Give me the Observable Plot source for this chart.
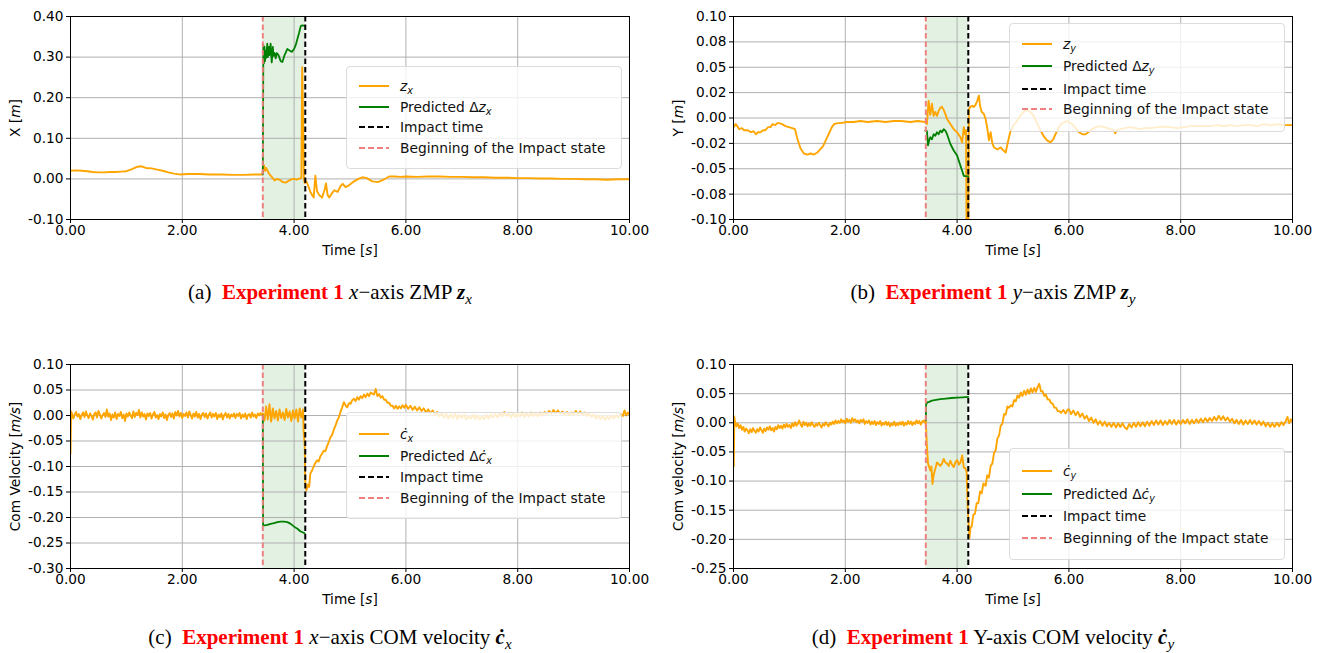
<!DOCTYPE html>
<html><head><meta charset="utf-8">
<script src="https://cdn.jsdelivr.net/npm/d3@7"></script>
<script src="https://cdn.jsdelivr.net/npm/@observablehq/plot@0.6"></script>
<style>
body{margin:0;background:#fff;}
#fig{position:relative;width:1339px;height:653px;overflow:hidden;font-family:"DejaVu Sans",sans-serif;background:#fff;}
.panel{position:absolute;}
.legend{position:absolute;background:rgba(255,255,255,0.8);border:1px solid #dcdcdc;border-radius:4px;box-sizing:border-box;}
.row{position:absolute;left:12px;height:20px;display:flex;align-items:center;font-size:13.8px;color:#111;white-space:nowrap;}
.row svg{margin-right:11px;flex:none;}
.row sub{font-size:70%;vertical-align:-0.35em;line-height:0;}
.cap{position:absolute;width:660px;text-align:center;font-family:"Liberation Serif","Times New Roman",serif;font-size:21px;color:#000;white-space:pre;}
.cap .exp{color:#ff0000;font-weight:bold;}
.cap sub{font-size:72%;vertical-align:-0.3em;line-height:0;}
</style>
</head><body>
<div id="fig"></div>
<script>
// ---------- shared axis data ----------
const xTicks = [0, 2, 4, 6, 8, 10];
const xTickLabels = ["0.00", "2.00", "4.00", "6.00", "8.00", "10.00"];
const beginImpact = 3.44;
const impactTime = 4.2;

// ---------- (a) x-axis ZMP ----------
const aYTicks = [-0.1, 0, 0.1, 0.2, 0.3, 0.4];
const aYLabels = ["-0.10", "0.00", "0.10", "0.20", "0.30", "0.40"];
const zxMeasured = [[0,0.020],[0.1,0.021],[0.2,0.020],[0.3,0.019],[0.4,0.017],[0.5,0.016],[0.6,0.016],[0.7,0.017],[0.8,0.017],[0.9,0.018],[1.0,0.019],[1.1,0.024],[1.2,0.030],[1.27,0.031],[1.35,0.027],[1.45,0.026],[1.55,0.023],[1.65,0.020],[1.75,0.016],[1.85,0.013],[1.95,0.011],[2.1,0.012],[2.3,0.012],[2.5,0.011],[2.7,0.011],[2.9,0.010],[3.1,0.010],[3.3,0.011],[3.43,0.011],[3.46,0.034],[3.48,0.020],[3.5,0.027],[3.55,0.013],[3.6,0.005],[3.65,-0.004],[3.7,0.0],[3.75,-0.003],[3.8,-0.008],[3.85,-0.009],[3.9,-0.005],[3.95,-0.001],[4.0,0.0],[4.05,-0.002],[4.1,0.001],[4.13,0.003],[4.145,0.275],[4.16,0.15],[4.175,0.0],[4.19,-0.01],[4.22,-0.006],[4.26,-0.02],[4.3,-0.035],[4.35,-0.046],[4.38,0.008],[4.41,-0.03],[4.45,-0.04],[4.5,-0.046],[4.55,-0.025],[4.57,-0.011],[4.6,-0.04],[4.63,-0.046],[4.68,-0.035],[4.72,-0.028],[4.78,-0.032],[4.83,-0.018],[4.87,-0.012],[4.92,-0.02],[4.97,-0.017],[5.05,-0.008],[5.15,0.0],[5.22,0.004],[5.3,0.002],[5.4,-0.006],[5.5,-0.008],[5.6,-0.002],[5.7,0.006],[5.8,0.006],[5.9,0.005],[6.0,0.006],[6.2,0.005],[6.4,0.006],[6.6,0.006],[6.8,0.005],[7.0,0.005],[7.2,0.004],[7.4,0.004],[7.6,0.003],[7.8,0.003],[8.0,0.002],[8.2,0.002],[8.4,0.001],[8.6,0.001],[8.8,0.000],[9.0,0.000],[9.2,-0.001],[9.4,-0.001],[9.6,-0.002],[9.8,-0.001],[10.0,-0.001]];
const zxPredicted = [[3.44,0.011],[3.45,0.33],[3.46,0.285],[3.47,0.325],[3.48,0.29],[3.49,0.315],[3.5,0.298],[3.52,0.333],[3.53,0.3],[3.55,0.325],[3.56,0.305],[3.58,0.333],[3.6,0.287],[3.62,0.325],[3.63,0.303],[3.65,0.31],[3.67,0.297],[3.69,0.31],[3.72,0.305],[3.76,0.29],[3.79,0.288],[3.83,0.305],[3.88,0.32],[3.92,0.316],[3.96,0.313],[4.0,0.32],[4.03,0.33],[4.06,0.345],[4.09,0.36],[4.12,0.377],[4.15,0.378],[4.19,0.377]];

// ---------- (b) y-axis ZMP ----------
const bYTicks = [-0.1, -0.075, -0.05, -0.025, 0, 0.025, 0.05, 0.075, 0.1];
const bYLabels = ["-0.10", "-0.08", "-0.05", "-0.02", "0.00", "0.02", "0.05", "0.08", "0.10"];
const zyMeasured = [[0,-0.009],[0.04,-0.006],[0.08,-0.009],[0.1,-0.011],[0.15,-0.010],[0.19,-0.012],[0.25,-0.012],[0.31,-0.014],[0.36,-0.013],[0.4,-0.016],[0.44,-0.014],[0.48,-0.014],[0.53,-0.012],[0.57,-0.012],[0.62,-0.009],[0.66,-0.009],[0.7,-0.006],[0.75,-0.007],[0.78,-0.005],[0.81,-0.005],[0.87,-0.006],[0.93,-0.008],[0.99,-0.009],[1.05,-0.010],[1.1,-0.011],[1.14,-0.02],[1.2,-0.030],[1.26,-0.035],[1.32,-0.036],[1.38,-0.035],[1.44,-0.036],[1.5,-0.034],[1.55,-0.031],[1.6,-0.028],[1.65,-0.022],[1.71,-0.015],[1.76,-0.009],[1.8,-0.006],[1.86,-0.005],[1.92,-0.005],[2.03,-0.004],[2.15,-0.004],[2.27,-0.003],[2.4,-0.004],[2.57,-0.003],[2.72,-0.004],[2.87,-0.003],[3.0,-0.003],[3.16,-0.004],[3.3,-0.003],[3.43,-0.004],[3.46,-0.006],[3.49,0.017],[3.52,0.003],[3.55,0.014],[3.58,0.002],[3.61,0.006],[3.64,0.002],[3.67,0.007],[3.70,0.010],[3.73,0.011],[3.76,0.008],[3.79,0.004],[3.82,-0.001],[3.88,-0.006],[3.94,-0.011],[4.0,-0.014],[4.06,-0.019],[4.09,-0.024],[4.12,-0.009],[4.14,-0.016],[4.16,-0.012],[4.17,-0.12],[4.2,-0.12],[4.21,0.009],[4.24,0.011],[4.27,0.012],[4.3,0.011],[4.33,0.013],[4.36,0.017],[4.39,0.022],[4.41,0.012],[4.44,0.006],[4.48,0.004],[4.51,-0.001],[4.54,-0.01],[4.57,-0.022],[4.6,-0.014],[4.63,-0.025],[4.66,-0.029],[4.72,-0.031],[4.78,-0.029],[4.81,-0.031],[4.87,-0.034],[4.90,-0.026],[4.95,-0.014],[5.01,-0.007],[5.07,-0.003],[5.13,0.002],[5.19,0.006],[5.25,0.008],[5.31,0.006],[5.37,0.002],[5.43,-0.005],[5.49,-0.012],[5.55,-0.018],[5.61,-0.022],[5.67,-0.024],[5.72,-0.021],[5.76,-0.016],[5.82,-0.009],[5.88,-0.005],[5.97,-0.003],[6.06,-0.006],[6.12,-0.01],[6.18,-0.014],[6.24,-0.016],[6.30,-0.016],[6.39,-0.012],[6.45,-0.010],[6.51,-0.0085],[6.57,-0.008],[6.63,-0.009],[6.69,-0.010],[6.74,-0.011],[6.80,-0.012],[6.83,-0.015],[6.86,-0.012],[6.92,-0.011],[7.0,-0.010],[7.10,-0.009],[7.19,-0.010],[7.28,-0.011],[7.37,-0.010],[7.46,-0.010],[7.58,-0.009],[7.70,-0.0085],[7.82,-0.009],[7.94,-0.010],[8.05,-0.009],[8.17,-0.008],[8.29,-0.008],[8.41,-0.008],[8.53,-0.008],[8.65,-0.007],[8.77,-0.008],[8.89,-0.007],[9.01,-0.008],[9.13,-0.007],[9.25,-0.007],[9.37,-0.008],[9.49,-0.006],[9.61,-0.007],[9.73,-0.006],[9.85,-0.007],[10.0,-0.007]];
const zyPredicted = [[3.43,-0.0125],[3.46,-0.013],[3.48,-0.027],[3.5,-0.022],[3.52,-0.019],[3.55,-0.021],[3.58,-0.016],[3.61,-0.0175],[3.64,-0.014],[3.67,-0.016],[3.7,-0.0125],[3.73,-0.014],[3.76,-0.011],[3.79,-0.0125],[3.82,-0.016],[3.88,-0.0256],[3.94,-0.032],[4.0,-0.037],[4.06,-0.047],[4.09,-0.052],[4.12,-0.057],[4.18,-0.0575],[4.2,-0.0575]];

// ---------- (c) x-axis COM velocity ----------
const cYTicks = [-0.3, -0.25, -0.2, -0.15, -0.1, -0.05, 0, 0.05, 0.1];
const cYLabels = ["-0.30", "-0.25", "-0.20", "-0.15", "-0.10", "-0.05", "0.00", "0.05", "0.10"];
const cxMeasured = [[0,-0.075],[0.01,0.008],[0.025,0.004],[0.05,-0.006],[0.075,0.002],[0.1,0.007],[0.125,-0.002],[0.15,0.003],[0.175,-0.007],[0.2,0.001],[0.225,0.006],[0.25,-0.003],[0.275,0.008],[0.3,0.0],[0.325,-0.005],[0.35,0.004],[0.375,-0.001],[0.4,-0.008],[0.425,0.003],[0.45,0.006],[0.475,-0.004],[0.5,0.009],[0.525,0.002],[0.55,-0.006],[0.575,0.001],[0.6,0.005],[0.625,-0.003],[0.65,0.012],[0.675,-0.002],[0.7,0.004],[0.725,-0.009],[0.75,0.002],[0.775,-0.004],[0.8,0.006],[0.825,-0.007],[0.85,0.003],[0.875,-0.001],[0.9,0.007],[0.925,-0.005],[0.95,0.002],[0.975,-0.011],[1.0,0.004],[1.025,-0.002],[1.05,0.006],[1.075,0.0],[1.1,-0.005],[1.125,0.008],[1.15,-0.003],[1.175,0.005],[1.2,0.001],[1.225,0.011],[1.25,-0.004],[1.275,0.006],[1.3,-0.002],[1.325,0.003],[1.35,-0.008],[1.375,0.004],[1.4,-0.001],[1.425,0.005],[1.45,-0.006],[1.475,0.002],[1.5,0.007],[1.525,-0.004],[1.55,0.001],[1.575,-0.007],[1.6,0.003],[1.625,-0.002],[1.65,0.006],[1.675,-0.005],[1.7,0.002],[1.725,-0.009],[1.75,0.001],[1.775,0.005],[1.8,-0.003],[1.825,0.004],[1.85,-0.006],[1.875,0.007],[1.9,0.0],[1.925,0.009],[1.95,-0.002],[1.975,0.005],[2.0,-0.005],[2.025,0.003],[2.05,-0.001],[2.075,0.006],[2.1,-0.004],[2.125,0.008],[2.15,0.001],[2.175,-0.006],[2.2,0.004],[2.225,-0.002],[2.25,0.007],[2.275,-0.004],[2.3,0.003],[2.325,-0.007],[2.35,0.002],[2.375,0.005],[2.4,-0.003],[2.425,0.004],[2.45,-0.006],[2.475,0.001],[2.5,0.006],[2.525,-0.004],[2.55,0.003],[2.575,-0.002],[2.6,0.005],[2.625,-0.007],[2.65,0.002],[2.675,-0.003],[2.7,0.004],[2.725,-0.008],[2.75,0.001],[2.775,0.005],[2.8,-0.004],[2.825,0.003],[2.85,-0.006],[2.875,0.002],[2.9,-0.002],[2.925,0.004],[2.95,-0.005],[2.975,0.003],[3.0,-0.001],[3.025,0.005],[3.05,-0.006],[3.075,0.002],[3.1,-0.003],[3.125,0.004],[3.15,-0.007],[3.175,0.001],[3.2,0.003],[3.225,-0.004],[3.25,0.006],[3.275,-0.002],[3.3,0.002],[3.325,-0.005],[3.35,0.004],[3.375,0.0],[3.4,0.005],[3.425,0.001],[3.44,0.004],[3.47,-0.01],[3.5,0.018],[3.53,-0.008],[3.56,0.022],[3.59,-0.012],[3.62,0.014],[3.65,-0.006],[3.68,0.009],[3.71,-0.01],[3.74,0.012],[3.77,-0.005],[3.8,0.006],[3.83,-0.009],[3.86,0.013],[3.89,-0.004],[3.92,0.008],[3.95,-0.011],[3.98,0.01],[4.01,-0.006],[4.04,0.012],[4.07,-0.012],[4.1,0.014],[4.13,-0.004],[4.16,0.012],[4.17,-0.03],[4.19,-0.06],[4.2,-0.13],[4.22,-0.147],[4.25,-0.135],[4.27,-0.14],[4.29,-0.114],[4.32,-0.108],[4.35,-0.1],[4.38,-0.093],[4.41,-0.088],[4.44,-0.09],[4.47,-0.08],[4.5,-0.075],[4.53,-0.069],[4.56,-0.07],[4.59,-0.06],[4.62,-0.052],[4.65,-0.043],[4.68,-0.038],[4.71,-0.028],[4.74,-0.02],[4.77,-0.01],[4.8,-0.004],[4.83,0.007],[4.86,0.016],[4.89,0.026],[4.92,0.02],[4.95,0.016],[4.98,0.024],[5.01,0.023],[5.04,0.03],[5.07,0.033],[5.1,0.028],[5.13,0.036],[5.16,0.031],[5.19,0.038],[5.22,0.034],[5.25,0.041],[5.28,0.036],[5.31,0.043],[5.34,0.038],[5.37,0.045],[5.4,0.043],[5.43,0.041],[5.46,0.052],[5.49,0.038],[5.52,0.042],[5.55,0.035],[5.58,0.038],[5.61,0.031],[5.64,0.031],[5.67,0.025],[5.7,0.025],[5.73,0.019],[5.76,0.019],[5.79,0.014],[5.82,0.019],[5.85,0.013],[5.88,0.018],[5.91,0.014],[5.94,0.02],[5.97,0.015],[6.0,0.021],[6.04,0.013],[6.08,0.019],[6.12,0.011],[6.16,0.017],[6.20,0.010],[6.24,0.016],[6.28,0.009],[6.32,0.014],[6.36,0.006],[6.40,0.012],[6.44,0.004],[6.48,0.010],[6.52,0.001],[6.56,0.007],[6.60,-0.002],[6.64,0.004],[6.68,-0.004],[6.72,0.003],[6.76,-0.006],[6.80,0.002],[6.84,-0.005],[6.88,0.003],[6.92,-0.007],[6.96,0.001],[7.00,-0.005],[7.04,0.002],[7.08,-0.008],[7.12,-0.001],[7.16,-0.006],[7.20,0.001],[7.24,-0.007],[7.28,0.0],[7.32,-0.008],[7.36,-0.002],[7.40,-0.007],[7.44,0.001],[7.48,-0.006],[7.52,0.002],[7.56,-0.004],[7.60,0.003],[7.64,-0.004],[7.68,0.005],[7.72,-0.002],[7.76,0.007],[7.80,-0.001],[7.84,0.004],[7.88,-0.004],[7.92,0.005],[7.96,-0.003],[8.00,0.004],[8.04,-0.002],[8.08,0.006],[8.12,-0.003],[8.16,0.005],[8.20,-0.002],[8.24,0.006],[8.28,-0.001],[8.32,0.005],[8.36,-0.002],[8.40,0.006],[8.44,0.0],[8.48,0.007],[8.52,0.002],[8.56,0.009],[8.60,0.003],[8.64,0.011],[8.68,0.004],[8.72,0.010],[8.76,0.003],[8.80,0.008],[8.84,0.001],[8.88,0.007],[8.92,0.0],[8.96,0.006],[9.00,0.001],[9.04,0.009],[9.08,0.002],[9.12,0.008],[9.16,0.001],[9.20,0.006],[9.24,-0.001],[9.28,0.004],[9.32,-0.003],[9.36,0.002],[9.40,-0.006],[9.44,0.0],[9.48,-0.007],[9.52,-0.001],[9.56,-0.008],[9.60,-0.002],[9.64,-0.007],[9.68,0.0],[9.72,-0.006],[9.76,0.001],[9.80,-0.004],[9.84,0.003],[9.88,-0.001],[9.91,0.010],[9.94,0.0],[9.97,0.006],[10.0,0.002]];
const cxPredicted = [[3.44,0.0],[3.445,-0.216],[3.52,-0.2145],[3.58,-0.2125],[3.64,-0.211],[3.7,-0.209],[3.76,-0.208],[3.82,-0.208],[3.88,-0.209],[3.94,-0.2125],[4.0,-0.218],[4.06,-0.222],[4.11,-0.227],[4.17,-0.230],[4.19,-0.231]];

// ---------- (d) y-axis COM velocity ----------
const dYTicks = [-0.25, -0.2, -0.15, -0.1, -0.05, 0, 0.05, 0.1];
const dYLabels = ["-0.25", "-0.20", "-0.15", "-0.10", "-0.05", "0.00", "0.05", "0.10"];
const cyMeasured = [[0,0.012],[0.005,-0.074],[0.015,0.01],[0.025,0.002],[0.05,-0.006],[0.075,-0.001],[0.1,-0.009],[0.125,-0.004],[0.15,-0.012],[0.175,-0.007],[0.2,-0.015],[0.225,-0.01],[0.25,-0.013],[0.275,-0.018],[0.3,-0.011],[0.325,-0.016],[0.35,-0.009],[0.375,-0.014],[0.4,-0.017],[0.425,-0.011],[0.45,-0.015],[0.475,-0.008],[0.5,-0.013],[0.525,-0.017],[0.55,-0.01],[0.575,-0.014],[0.6,-0.008],[0.625,-0.012],[0.65,-0.006],[0.675,-0.013],[0.7,-0.009],[0.725,-0.015],[0.75,-0.007],[0.775,-0.011],[0.8,-0.004],[0.825,-0.009],[0.85,-0.005],[0.875,-0.01],[0.9,-0.003],[0.925,-0.008],[0.95,-0.002],[0.975,-0.007],[1.0,-0.004],[1.025,-0.009],[1.05,-0.001],[1.075,-0.006],[1.1,0.001],[1.125,-0.005],[1.15,-0.002],[1.175,0.004],[1.2,-0.003],[1.225,-0.007],[1.25,0.002],[1.275,-0.004],[1.3,0.0],[1.325,-0.006],[1.35,-0.001],[1.375,-0.005],[1.4,0.001],[1.425,-0.004],[1.45,-0.007],[1.475,-0.002],[1.5,-0.005],[1.525,0.0],[1.55,-0.004],[1.575,-0.008],[1.6,-0.002],[1.625,-0.005],[1.65,0.001],[1.675,-0.003],[1.7,-0.006],[1.725,0.0],[1.75,-0.003],[1.775,0.002],[1.8,-0.002],[1.825,0.004],[1.85,-0.001],[1.875,0.003],[1.9,0.0],[1.925,0.006],[1.95,0.001],[1.975,0.004],[2.0,-0.001],[2.025,0.007],[2.05,0.002],[2.075,0.005],[2.1,0.0],[2.125,0.008],[2.15,0.003],[2.175,0.006],[2.2,0.001],[2.225,0.004],[2.25,-0.001],[2.275,0.005],[2.3,0.002],[2.325,0.006],[2.35,-0.002],[2.375,0.003],[2.4,0.0],[2.425,0.004],[2.45,-0.003],[2.475,0.002],[2.5,-0.002],[2.525,0.003],[2.55,-0.004],[2.575,0.001],[2.6,-0.002],[2.625,0.003],[2.65,-0.005],[2.675,0.0],[2.7,-0.003],[2.725,0.002],[2.75,-0.004],[2.775,0.001],[2.8,-0.006],[2.825,-0.001],[2.85,-0.004],[2.875,0.002],[2.9,-0.005],[2.925,-0.001],[2.95,-0.004],[2.975,0.001],[3.0,-0.003],[3.025,0.002],[3.05,-0.005],[3.075,0.0],[3.1,-0.003],[3.125,0.003],[3.15,-0.002],[3.175,0.002],[3.2,-0.004],[3.225,0.001],[3.25,-0.002],[3.275,0.004],[3.3,-0.001],[3.325,0.003],[3.35,-0.003],[3.375,0.002],[3.4,0.004],[3.425,0.0],[3.44,0.003],[3.46,-0.04],[3.48,-0.07],[3.5,-0.076],[3.52,-0.082],[3.54,-0.075],[3.56,-0.105],[3.58,-0.09],[3.61,-0.079],[3.64,-0.068],[3.67,-0.071],[3.7,-0.074],[3.73,-0.07],[3.76,-0.062],[3.79,-0.068],[3.82,-0.07],[3.85,-0.074],[3.88,-0.065],[3.91,-0.072],[3.94,-0.076],[3.97,-0.068],[4.0,-0.064],[4.03,-0.072],[4.06,-0.068],[4.09,-0.056],[4.12,-0.077],[4.15,-0.078],[4.17,-0.085],[4.19,-0.145],[4.22,-0.198],[4.24,-0.18],[4.26,-0.178],[4.29,-0.158],[4.32,-0.156],[4.35,-0.138],[4.38,-0.138],[4.41,-0.118],[4.44,-0.121],[4.47,-0.104],[4.51,-0.108],[4.54,-0.09],[4.57,-0.094],[4.6,-0.074],[4.63,-0.07],[4.66,-0.052],[4.69,-0.047],[4.72,-0.027],[4.75,-0.022],[4.78,-0.005],[4.81,-0.002],[4.84,0.015],[4.87,0.014],[4.9,0.028],[4.93,0.026],[4.96,0.03],[4.99,0.028],[5.02,0.039],[5.05,0.037],[5.08,0.047],[5.11,0.043],[5.14,0.052],[5.17,0.046],[5.2,0.055],[5.23,0.048],[5.26,0.057],[5.29,0.05],[5.32,0.059],[5.35,0.052],[5.38,0.06],[5.41,0.053],[5.44,0.061],[5.47,0.067],[5.5,0.054],[5.53,0.054],[5.56,0.046],[5.59,0.048],[5.62,0.04],[5.65,0.04],[5.68,0.034],[5.71,0.033],[5.74,0.026],[5.77,0.026],[5.8,0.02],[5.83,0.02],[5.86,0.017],[5.9,0.022],[5.94,0.016],[5.98,0.023],[6.00,0.023],[6.04,0.015],[6.08,0.021],[6.12,0.013],[6.16,0.019],[6.20,0.010],[6.24,0.016],[6.28,0.007],[6.32,0.012],[6.36,0.003],[6.40,0.009],[6.44,0.0],[6.48,0.006],[6.52,-0.003],[6.56,0.003],[6.60,-0.005],[6.64,0.002],[6.68,-0.006],[6.72,0.0],[6.76,-0.007],[6.80,0.0],[6.84,-0.008],[6.88,-0.001],[6.92,-0.007],[6.96,-0.001],[7.00,-0.008],[7.04,-0.011],[7.08,-0.002],[7.12,-0.008],[7.16,0.0],[7.20,-0.007],[7.24,0.001],[7.28,-0.006],[7.32,0.001],[7.36,-0.006],[7.40,0.002],[7.44,-0.005],[7.48,0.003],[7.52,-0.004],[7.56,0.004],[7.60,-0.003],[7.64,0.004],[7.68,-0.004],[7.72,0.003],[7.76,-0.003],[7.80,0.005],[7.84,-0.002],[7.88,0.005],[7.92,-0.003],[7.96,0.004],[8.00,-0.002],[8.04,0.005],[8.08,-0.001],[8.12,0.006],[8.16,-0.002],[8.20,0.005],[8.24,-0.001],[8.28,0.006],[8.32,0.0],[8.36,0.007],[8.40,0.001],[8.44,0.008],[8.48,0.002],[8.52,0.008],[8.56,0.003],[8.60,0.010],[8.64,0.004],[8.68,0.012],[8.72,0.005],[8.76,0.011],[8.80,0.004],[8.84,0.009],[8.88,0.002],[8.92,0.007],[8.96,-0.001],[9.00,0.005],[9.04,-0.002],[9.08,0.005],[9.12,-0.003],[9.16,0.004],[9.20,-0.002],[9.24,0.005],[9.28,-0.002],[9.32,0.004],[9.36,-0.003],[9.40,0.003],[9.44,-0.004],[9.48,0.002],[9.52,-0.006],[9.56,0.0],[9.60,-0.007],[9.64,-0.001],[9.68,-0.007],[9.72,0.0],[9.76,-0.006],[9.80,0.001],[9.84,-0.004],[9.88,0.003],[9.91,0.010],[9.94,-0.001],[9.97,0.006],[10.0,0.002]];
const cyPredicted = [[3.44,0.004],[3.445,0.032],[3.47,0.035],[3.5,0.036],[3.55,0.038],[3.6,0.039],[3.7,0.0405],[3.8,0.0415],[3.9,0.0425],[4.0,0.043],[4.1,0.0437],[4.2,0.0443]];

// ---------- text ----------
const legendNames = ["measured", "Predicted Δ", "Impact time", "Beginning of the Impact state"];

const panels = [
  {left: 0, top: 0, height: 259, yDomain: [-0.1, 0.4], yTicks: aYTicks, yLabels: aYLabels,
   measured: zxMeasured, predicted: zxPredicted,
   yLabel: [["X [", false], ["m", true], ["]", false]],
   sym: '<i>z</i><sub><i>x</i></sub>',
   legend: {left: 346, top: 66, width: 276, height: 103, rows: [20, 41, 61, 82]},
   caption: {top: 280, html: '(a)  <span class="exp">Experiment 1</span> <i>x</i>−axis ZMP <b><i>z</i></b><sub><i>x</i></sub>'}},
  {left: 663, top: 0, height: 259, yDomain: [-0.1, 0.1], yTicks: bYTicks, yLabels: bYLabels,
   measured: zyMeasured, predicted: zyPredicted,
   yLabel: [["Y [", false], ["m", true], ["]", false]],
   sym: '<i>z</i><sub><i>y</i></sub>',
   legend: {left: 1009, top: 23, width: 276, height: 109, rows: [21, 43, 66, 86]},
   caption: {top: 280, html: '(b)  <span class="exp">Experiment 1</span> <i>y</i>−axis ZMP <b><i>z</i></b><sub><i>y</i></sub>'}},
  {left: 0, top: 348, height: 260, yDomain: [-0.3, 0.1], yTicks: cYTicks, yLabels: cYLabels,
   measured: cxMeasured, predicted: cxPredicted,
   yLabel: [["Com Velocity [", false], ["m/s", true], ["]", false]],
   sym: '<i>ċ</i><sub><i>x</i></sub>',
   legend: {left: 346, top: 412, width: 276, height: 107, rows: [22, 44, 65, 86]},
   caption: {top: 625, html: '(c)  <span class="exp">Experiment 1</span> <i>x</i>−axis COM velocity <b><i>ċ</i></b><sub><i>x</i></sub>'}},
  {left: 663, top: 348, height: 260, yDomain: [-0.25, 0.1], yTicks: dYTicks, yLabels: dYLabels,
   measured: cyMeasured, predicted: cyPredicted,
   yLabel: [["Com velocity [", false], ["m/s", true], ["]", false]],
   sym: '<i>ċ</i><sub><i>y</i></sub>',
   legend: {left: 1009, top: 448, width: 276, height: 112, rows: [23, 46, 68, 90]},
   caption: {top: 625, html: '(d)  <span class="exp">Experiment 1</span> Y-axis COM velocity <b><i>ċ</i></b><sub><i>y</i></sub>'}}
];

const SVGNS = "http://www.w3.org/2000/svg";
function setLabel(svg, which, parts) {
  const t = svg.querySelector(`g[aria-label="${which}-axis label"] text`);
  if (!t) return;
  while (t.firstChild) t.removeChild(t.firstChild);
  for (const [s, it] of parts) {
    const ts = document.createElementNS(SVGNS, "tspan");
    ts.textContent = s;
    if (it) ts.setAttribute("font-style", "italic");
    t.appendChild(ts);
  }
}

const fig = document.getElementById("fig");
const ORANGE = "#ffa500", GREEN = "#008000", PINK = "#f08080";

for (const p of panels) {
  const span = [{x1: beginImpact, x2: impactTime, y1: p.yDomain[0], y2: p.yDomain[1]}];
  const svg = Plot.plot({
    width: 660, height: p.height,
    marginLeft: 70, marginRight: 31, marginTop: 16, marginBottom: 40,
    style: {fontFamily: "DejaVu Sans", fontSize: "13.7px", color: "#000", background: "transparent", overflow: "visible"},
    x: {domain: [0, 10], ticks: xTicks, tickFormat: d => xTickLabels[xTicks.indexOf(d)], tickSize: 4, tickPadding: 2,
        label: "Time [s]", labelAnchor: "center", labelOffset: 35, labelArrow: "none"},
    y: {domain: p.yDomain, ticks: p.yTicks, tickFormat: d => p.yLabels[p.yTicks.indexOf(d)], tickSize: 4, tickPadding: 3,
        label: "Y", labelAnchor: "center", labelOffset: 60, labelArrow: "none"},
    marks: [
      Plot.rect(span, {x1: "x1", x2: "x2", y1: "y1", y2: "y2", fill: GREEN, fillOpacity: 0.11}),
      Plot.ruleX(xTicks, {stroke: "#b0b0b0", strokeWidth: 1}),
      Plot.ruleY(p.yTicks, {stroke: "#b0b0b0", strokeWidth: 1}),
      Plot.line(p.measured, {x: d => d[0], y: d => d[1], stroke: ORANGE, strokeWidth: 1.9, clip: true}),
      Plot.line(p.predicted, {x: d => d[0], y: d => d[1], stroke: GREEN, strokeWidth: 1.8, clip: true}),
      Plot.ruleX([beginImpact], {stroke: PINK, strokeWidth: 2, strokeDasharray: "5.5,3"}),
      Plot.ruleX([impactTime], {stroke: "#000", strokeWidth: 2, strokeDasharray: "5.5,3"}),
      Plot.frame({stroke: "#000", strokeWidth: 1})
    ]
  });
  setLabel(svg, "x", [["Time [", false], ["s", true], ["]", false]]);
  setLabel(svg, "y", p.yLabel);
  const wrap = document.createElement("div");
  wrap.className = "panel";
  wrap.style.left = p.left + "px";
  wrap.style.top = p.top + "px";
  wrap.appendChild(svg);
  fig.appendChild(wrap);

  // legend
  const lg = document.createElement("div");
  lg.className = "legend";
  Object.assign(lg.style, {left: p.legend.left + "px", top: p.legend.top + "px", width: p.legend.width + "px", height: p.legend.height + "px"});
  const samples = [
    `<line x1="0" y1="4" x2="30" y2="4" stroke="${ORANGE}" stroke-width="2"/>`,
    `<line x1="0" y1="4" x2="30" y2="4" stroke="${GREEN}" stroke-width="2"/>`,
    `<line x1="0" y1="4" x2="30" y2="4" stroke="#000" stroke-width="2" stroke-dasharray="6,3"/>`,
    `<line x1="0" y1="4" x2="30" y2="4" stroke="${PINK}" stroke-width="2" stroke-dasharray="6,3"/>`
  ];
  const texts = [p.sym, legendNames[1] + p.sym, legendNames[2], legendNames[3]];
  texts.forEach((txt, i) => {
    const r = document.createElement("div");
    r.className = "row";
    r.style.top = (p.legend.rows[i] - 11) + "px";
    r.innerHTML = `<svg width="30" height="8">${samples[i]}</svg><span>${txt}</span>`;
    lg.appendChild(r);
  });
  fig.appendChild(lg);

  // caption
  const cap = document.createElement("div");
  cap.className = "cap";
  cap.style.left = p.left + "px";
  cap.style.top = p.caption.top + "px";
  cap.innerHTML = p.caption.html;
  fig.appendChild(cap);
}
</script>
</body></html>
